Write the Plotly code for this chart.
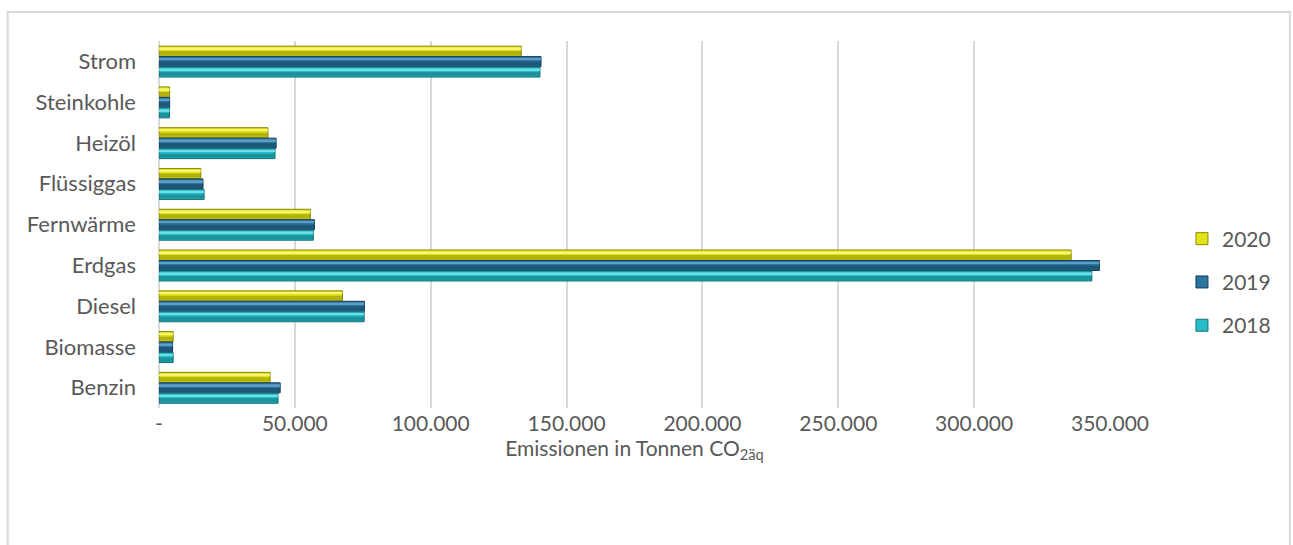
import plotly.graph_objects as go

# Emissions by energy source (tonnes CO2-eq), one value per category and year
categories = ["Benzin", "Biomasse", "Diesel", "Erdgas", "Fernwärme",
              "Flüssiggas", "Heizöl", "Steinkohle", "Strom"]
values_2018 = [43800, 5200, 75500, 343300, 56800, 16600, 42700, 3900, 140200]
values_2019 = [44600, 5000, 75600, 346100, 57200, 16200, 43100, 3900, 140600]
values_2020 = [40900, 5200, 67500, 335700, 55700, 15400, 40100, 3900, 133300]

x_tickvals = [0, 50000, 100000, 150000, 200000, 250000, 300000, 350000]
x_ticktext = ["-", "50.000", "100.000", "150.000", "200.000", "250.000",
              "300.000", "350.000"]

# (name, values, main colour, dark shade, light shade, slot offset)
# listed top-down so the legend reads 2020, 2019, 2018
series = [
    ("2020", values_2020, "#E3E31A", "#8A8A00", "#FAFA8C", 0.129),
    ("2019", values_2019, "#2A74A0", "#153F5A", "#6AA9CF", -0.128),
    ("2018", values_2018, "#27BDC8", "#137078", "#7FE6EE", -0.385),
]
BAR_W = 0.245

FONT = "Lato, 'Open Sans', sans-serif"
TEXT = "#595959"

fig = go.Figure()
for name, vals, main, dark, light, off in series:
    # main bar with a dark rim
    fig.add_trace(go.Bar(
        y=categories, x=vals, orientation="h", name=name,
        offset=off, width=BAR_W,
        marker=dict(color=main, line=dict(color=dark, width=1)),
        legendgroup=name, showlegend=True,
    ))
    # lower half shading
    fig.add_trace(go.Bar(
        y=categories, x=vals, orientation="h", name=name,
        offset=off + 0.02, width=BAR_W * 0.42,
        marker=dict(color=dark, opacity=0.55, line=dict(width=0)),
        legendgroup=name, showlegend=False, hoverinfo="skip",
    ))
    # thin highlight near the top edge
    fig.add_trace(go.Bar(
        y=categories, x=vals, orientation="h", name=name,
        offset=off + BAR_W * 0.68, width=BAR_W * 0.18,
        marker=dict(color=light, opacity=0.8, line=dict(width=0)),
        legendgroup=name, showlegend=False, hoverinfo="skip",
    ))

# plot area geometry in pixels
L, R, T, B = 158.5, 1110, 41, 408
W, H = 1293, 545
pw, ph = R - L, B - T

def px_x(x):
    return (x - L) / pw

def px_y(y):
    return (B - y) / ph

fig.update_layout(
    width=W, height=H,
    margin=dict(l=L, r=W - R, t=T, b=H - B),
    barmode="overlay",
    paper_bgcolor="white", plot_bgcolor="white",
    font=dict(family=FONT, color=TEXT, size=21),
    showlegend=True,
    legend=dict(
        x=px_x(1182), xanchor="left", y=px_y(282), yanchor="middle",
        traceorder="grouped", tracegroupgap=13,
        font=dict(size=21, color=TEXT), itemwidth=30,
        bgcolor="rgba(0,0,0,0)",
    ),
    xaxis=dict(
        range=[0, 350000], tickvals=x_tickvals, ticktext=x_ticktext,
        showgrid=True, gridcolor="#D9D9D9", gridwidth=2,
        zeroline=True, zerolinecolor="#D9D9D9", zerolinewidth=2,
        showline=False, ticks="", ticklabelstandoff=1,
        tickfont=dict(size=21, color=TEXT),
        title=dict(text="Emissionen in Tonnen CO<sub>2äq</sub>",
                   font=dict(size=21, color=TEXT), standoff=0),
        fixedrange=True,
    ),
    yaxis=dict(
        type="category", categoryorder="array", categoryarray=categories,
        range=[-0.5, len(categories) - 0.5],
        showgrid=False, showline=False, ticks="", ticklabelstandoff=22,
        tickfont=dict(size=22, color=TEXT), fixedrange=True,
    ),
    shapes=[dict(
        type="rect", xref="paper", yref="paper",
        x0=px_x(7), x1=px_x(1290), y0=px_y(560), y1=px_y(12),
        line=dict(color="#D9D9D9", width=2), fillcolor="rgba(0,0,0,0)",
        layer="below",
    )],
)

fig.write_html("out.html")
